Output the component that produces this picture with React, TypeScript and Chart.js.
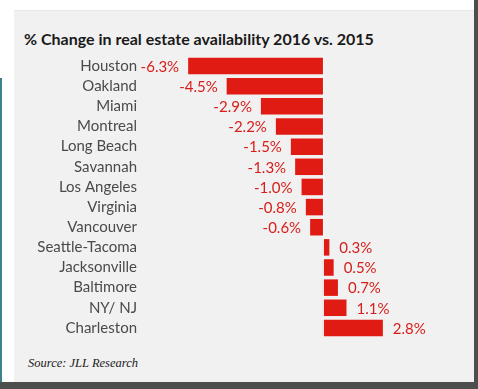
import React, { useEffect, useRef } from "react";
import { Chart, registerables } from "chart.js";

Chart.register(...registerables);

const categories = [
  "Houston",
  "Oakland",
  "Miami",
  "Montreal",
  "Long Beach",
  "Savannah",
  "Los Angeles",
  "Virginia",
  "Vancouver",
  "Seattle-Tacoma",
  "Jacksonville",
  "Baltimore",
  "NY/ NJ",
  "Charleston",
];

const changePct = [-6.3, -4.5, -2.9, -2.2, -1.5, -1.3, -1.0, -0.8, -0.6, 0.3, 0.5, 0.7, 1.1, 2.8];

const titleText = "% Change in real estate availability 2016 vs. 2015";
const sourceText = "Source: JLL Research";

const FONT = "Lato, 'Source Sans Pro', sans-serif";

const valueLabelPlugin = {
  id: "valueLabels",
  afterDatasetsDraw(chart: any) {
    const ctx = chart.ctx;
    const meta = chart.getDatasetMeta(0);
    const xs = chart.scales.x;
    const zx = xs.getPixelForValue(0);
    ctx.save();
    // zero line
    ctx.strokeStyle = "rgba(250,250,250,0.9)";
    ctx.lineWidth = 1;
    ctx.beginPath();
    ctx.moveTo(Math.round(zx) + 0.5, chart.chartArea.top);
    ctx.lineTo(Math.round(zx) + 0.5, chart.chartArea.bottom);
    ctx.stroke();
    ctx.font = `15px ${FONT}`;
    ctx.fillStyle = "#d81e1a";
    ctx.textBaseline = "middle";
    meta.data.forEach((bar: any, i: number) => {
      const v = changePct[i];
      const label = (v < 0 ? "-" : "") + Math.abs(v).toFixed(1) + "%";
      if (v < 0) {
        ctx.textAlign = "right";
        ctx.fillText(label, bar.x - 9, bar.y + 1);
      } else {
        ctx.textAlign = "left";
        ctx.fillText(label, bar.x + 10, bar.y + 1);
      }
    });
    ctx.restore();
  },
};

export default function App() {
  const ref = useRef<HTMLCanvasElement | null>(null);

  useEffect(() => {
    if (!ref.current) return;
    const chart = new Chart(ref.current, {
      type: "bar",
      data: {
        labels: categories,
        datasets: [
          {
            data: changePct,
            backgroundColor: "#e01b14",
            borderWidth: 0,
            barPercentage: 0.82,
            categoryPercentage: 1,
          },
        ],
      },
      options: {
        indexAxis: "y",
        animation: false,
        responsive: false,
        maintainAspectRatio: false,
        layout: { padding: { top: 6, bottom: 4, left: 0, right: 34 } },
        plugins: {
          legend: { display: false },
          tooltip: { enabled: false },
          title: { display: false },
        },
        scales: {
          x: {
            display: false,
            min: -8.55,
            max: 5.47,
          },
          y: {
            type: "category",
            grid: { display: false, drawTicks: false },
            border: { display: false },
            ticks: {
              color: "#4a4a4a",
              font: { family: FONT, size: 15 },
              padding: 3,
              autoSkip: false,
            },
            afterFit: (s: any) => {
              s.width = 126;
              s.paddingTop = 0;
              s.paddingBottom = 0;
            },
          },
        },
      },
      plugins: [valueLabelPlugin],
    });
    return () => chart.destroy();
  }, []);

  return (
    <div
      style={{
        position: "fixed",
        left: 0,
        top: 0,
        width: 478,
        height: 389,
        background: "#ffffff",
        overflow: "hidden",
      }}
    >
      <div
        style={{
          position: "absolute",
          left: 14,
          top: 10,
          width: 460,
          height: 372,
          background: "#f1f1f1",
          borderTop: "1px solid #e8e8e8",
          boxSizing: "border-box",
        }}
      />
      <div style={{ position: "absolute", left: 474, top: 0, width: 4, height: 389, background: "#4d4d4d" }} />
      <div style={{ position: "absolute", left: 0, top: 382, width: 478, height: 7, background: "#4d4d4d" }} />
      <div style={{ position: "absolute", left: 0, top: 78, width: 2, height: 304, background: "#3f7f88" }} />
      <div
        style={{
          position: "absolute",
          left: 24,
          top: 31,
          fontFamily: FONT,
          fontWeight: 700,
          fontSize: 16,
          lineHeight: 1,
          color: "#1a1a1a",
          whiteSpace: "nowrap",
        }}
      >
        {titleText}
      </div>
      <canvas
        ref={ref}
        width={460}
        height={292}
        style={{ position: "absolute", left: 14, top: 50, width: 460, height: 292 }}
      />
      <div
        style={{
          position: "absolute",
          left: 28,
          top: 357,
          fontFamily: "'Liberation Serif', serif",
          fontStyle: "italic",
          fontSize: 12.5,
          lineHeight: 1,
          color: "#1a1a1a",
          whiteSpace: "nowrap",
        }}
      >
        {sourceText}
      </div>
    </div>
  );
}
